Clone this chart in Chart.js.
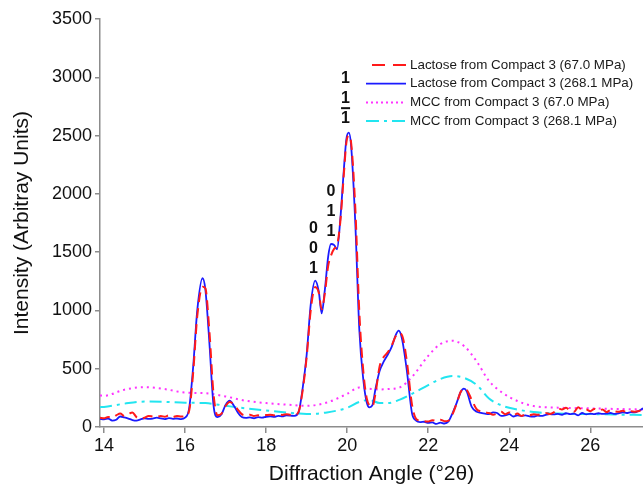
<!DOCTYPE html>
<html>
<head>
<meta charset="utf-8">
<title>Lactose / MCC diffraction patterns</title>
<script src="https://cdn.jsdelivr.net/npm/chart.js@4.4.1/dist/chart.umd.min.js"></script>
<style>
  html, body { margin: 0; padding: 0; background: #fff; }
  canvas { display: block; }
</style>
</head>
<body>
<canvas id="xrdChart" width="643" height="490"></canvas>
<script>
// ---- data ----
// lactose scans share one angle grid (°2θ)
const lactoseAngle = [
  13.9, 14.0, 14.1, 14.2, 14.3, 14.4, 14.5, 14.6, 14.7, 14.8, 14.9, 15.0, 15.1, 15.2, 15.3, 15.4,
  15.5, 15.6, 15.7, 15.8, 15.9, 16.0, 16.1, 16.2, 16.3, 16.43, 16.5, 16.6, 16.7, 16.8, 16.9, 17.0,
  17.1, 17.2, 17.3, 17.4, 17.5, 17.6, 17.7, 17.8, 17.9, 18.0, 18.1, 18.2, 18.3, 18.4, 18.5, 18.6,
  18.7, 18.8, 18.9, 19.0, 19.1, 19.21, 19.3, 19.37, 19.45, 19.53, 19.6, 19.68, 19.75, 19.83, 19.92,
  19.98, 20.04, 20.1, 20.2, 20.3, 20.4, 20.48, 20.55, 20.62, 20.7, 20.8, 20.9, 21.0, 21.1, 21.2,
  21.27, 21.35, 21.47, 21.6, 21.7, 21.8, 21.9, 22.0, 22.1, 22.2, 22.3, 22.4, 22.5, 22.6, 22.7,
  22.8, 22.88, 22.95, 23.07, 23.2, 23.3, 23.4, 23.5, 23.6, 23.7, 23.8, 23.9, 24.0, 24.1, 24.2,
  24.3, 24.4, 24.5, 24.6, 24.7, 24.8, 24.9, 25.0, 25.1, 25.2, 25.3, 25.4, 25.5, 25.6, 25.7, 25.8,
  25.9, 26.0, 26.1, 26.2, 26.3, 26.4, 26.5, 26.6, 26.7, 26.8, 26.9, 27.0, 27.1, 27.2, 27.3
];
const lactose67 = [
  80, 75, 85, 80, 100, 115, 95, 110, 125, 85, 75, 80, 95, 90, 85, 95,
  88, 100, 85, 95, 90, 92, 140, 470, 950, 1204, 1190, 820, 290, 100, 115, 180,
  215, 195, 150, 110, 100, 105, 95, 100, 98, 102, 105, 100, 108, 104, 110, 106,
  105, 130, 310, 600, 1000, 1200, 1150, 1010, 1150, 1380, 1470, 1530, 1560, 1760, 2180,
  2440, 2500, 2430, 1880, 980, 470, 250, 185, 175, 290, 520, 600, 640, 700, 780,
  805, 790, 570, 190, 70, 55, 50, 48, 58, 52, 62, 50, 55, 110, 200,
  300, 330, 320, 235, 150, 135, 125, 120, 105, 115, 130, 110, 125, 100, 115,
  95, 108, 100, 110, 105, 115, 120, 112, 125, 160, 150, 165, 140, 130, 170, 145,
  150, 135, 155, 140, 150, 128, 145, 135, 130, 140, 125, 135, 130, 138, 145
];
const lactose268 = [
  70, 66, 72, 55, 62, 90, 82, 72, 60, 55, 65, 75, 70, 72, 80, 74,
  68, 76, 70, 73, 68, 80, 160, 520, 1000, 1276, 1180, 720, 190, 85, 110, 190,
  226, 185, 125, 85, 78, 82, 75, 85, 80, 88, 92, 88, 96, 92, 100, 98,
  95, 125, 330, 620, 1050, 1255, 1160, 975, 1180, 1460, 1570, 1560, 1525, 1780, 2220,
  2470, 2525, 2400, 1750, 830, 400, 215, 168, 185, 330, 480, 560, 620, 690, 790,
  826, 760, 490, 117, 55, 42, 45, 35, 40, 26, 38, 30, 48, 120, 205,
  300, 330, 305, 175, 130, 122, 115, 110, 125, 120, 95, 100, 110, 90, 100,
  95, 100, 92, 90, 98, 95, 105, 110, 108, 112, 105, 118, 110, 115, 100, 120,
  108, 115, 110, 118, 112, 115, 120, 112, 118, 125, 120, 128, 125, 140, 160
];

// MCC scans are broad humps, sampled more coarsely
const mccAngle = [
  13.9, 14.0, 14.5, 15.0, 15.5, 16.0, 16.5, 17.0, 17.5, 18.0, 18.5, 19.0, 19.5, 20.0, 20.3,
  20.55, 20.8, 21.0, 21.3, 21.6, 22.0, 22.3, 22.6, 22.9, 23.2, 23.5, 23.85, 24.2, 24.6, 25.2,
  26.0, 26.6, 27.3
];
const mcc67 = [
  270, 268, 320, 342, 325, 295, 290, 262, 225, 205, 192, 182, 210, 285, 338,
  328, 322, 325, 340, 430, 610, 712, 740, 690, 560, 395, 289, 223, 180, 166,
  160, 155, 150
];
const mcc268 = [
  170, 172, 200, 218, 216, 208, 205, 182, 160, 142, 125, 112, 125, 165, 215,
  232, 205, 205, 235, 285, 360, 412, 437, 420, 360, 245, 180, 150, 128, 116,
  111, 107, 103
];

const seriesLabels = [
  'Lactose from Compact 3 (67.0 MPa)',
  'Lactose from Compact 3 (268.1 MPa)',
  'MCC from Compact 3 (67.0 MPa)',
  'MCC from Compact 3 (268.1 MPa)'
];

const xTicks = [14, 16, 18, 20, 22, 24, 26];
const yTicks = [0, 500, 1000, 1500, 2000, 2500, 3000, 3500];

// Miller indices written above the lactose reflections
const peakLabels = [
  { angle: 19.17, value: 1255, rows: ['0', '0', '1'] },
  { angle: 19.6, value: 1570, rows: ['0', '1', '1'] },
  { angle: 19.96, value: 2525, rows: ['1', '1', '1'], barLast: true }
];

const FONT = "'Liberation Sans', Arial, Helvetica, sans-serif";
const AXIS_GREY = '#8c8c8c';

function toPoints(xs, ys) {
  return xs.map((x, i) => ({ x: x, y: ys[i] }));
}

// ---- plugins ----
// vertical stacks of hkl digits; the last "1" of the main peak carries a bar
const millerIndices = {
  id: 'millerIndices',
  afterDatasetsDraw(chart) {
    const { ctx, scales: { x, y } } = chart;
    ctx.save();
    ctx.font = 'bold 16px ' + FONT;
    ctx.textAlign = 'center';
    ctx.textBaseline = 'middle';
    ctx.fillStyle = '#111';
    ctx.strokeStyle = '#111';
    peakLabels.forEach(p => {
      const px = x.getPixelForValue(p.angle);
      const bottom = y.getPixelForValue(p.value) - (p.barLast ? 14 : 12);
      const n = p.rows.length;
      p.rows.forEach((r, i) => {
        ctx.fillText(r, px, bottom - (n - 1 - i) * 20);
      });
      if (p.barLast) {
        ctx.lineWidth = 2;
        ctx.beginPath();
        ctx.moveTo(px - 4.5, bottom - 10.5);
        ctx.lineTo(px + 4.5, bottom - 10.5);
        ctx.stroke();
      }
    });
    ctx.restore();
  }
};

// line-sample legend in the upper right of the plot
const lineLegend = {
  id: 'lineLegend',
  afterDraw(chart) {
    const ctx = chart.ctx;
    const x0 = 366, x1 = 406, textX = 410, top = 65, step = 18.7;
    ctx.save();
    ctx.font = '13.4px ' + FONT;
    ctx.textBaseline = 'middle';
    ctx.textAlign = 'left';
    chart.data.datasets.forEach((ds, i) => {
      const yy = top + i * step;
      ctx.strokeStyle = ds.borderColor;
      ctx.lineWidth = ds.borderWidth;
      ctx.setLineDash(ds.legendDash || []);
      ctx.beginPath();
      ctx.moveTo(x0, yy);
      ctx.lineTo(x1, yy);
      ctx.stroke();
      ctx.setLineDash([]);
      ctx.fillStyle = '#1a1a1a';
      ctx.fillText(ds.label, textX, yy);
    });
    ctx.restore();
  }
};

// ---- chart ----
const ctx = document.getElementById('xrdChart').getContext('2d');

new Chart(ctx, {
  type: 'line',
  data: {
    datasets: [
      {
        label: seriesLabels[0],
        data: toPoints(lactoseAngle, lactose67),
        borderColor: '#ff1a1a',
        borderWidth: 2,
        borderDash: [10, 6],
        legendDash: [0, 6, 13, 8, 13, 8]
      },
      {
        label: seriesLabels[1],
        data: toPoints(lactoseAngle, lactose268),
        borderColor: '#1a1aff',
        borderWidth: 1.8
      },
      {
        label: seriesLabels[2],
        data: toPoints(mccAngle, mcc67),
        borderColor: '#ff33ff',
        borderWidth: 2,
        borderDash: [2, 4],
        legendDash: [2, 3]
      },
      {
        label: seriesLabels[3],
        data: toPoints(mccAngle, mcc268),
        borderColor: '#22e5f0',
        borderWidth: 2,
        borderDash: [12, 5, 3, 5],
        legendDash: [13, 5, 3, 5]
      }
    ]
  },
  options: {
    responsive: false,
    animation: false,
    devicePixelRatio: 1,
    layout: { padding: { top: 19, right: 0, bottom: 0, left: 0 } },
    elements: {
      point: { radius: 0 },
      line: { cubicInterpolationMode: 'monotone', fill: false }
    },
    plugins: {
      legend: { display: false },
      tooltip: { enabled: false }
    },
    scales: {
      x: {
        type: 'linear',
        min: 13.9,
        max: 27.3,
        afterBuildTicks: s => { s.ticks = xTicks.map(v => ({ value: v })); },
        afterFit: s => { s.height = 63; },
        border: { color: AXIS_GREY, width: 1.5 },
        grid: { drawOnChartArea: false, tickLength: 6, color: AXIS_GREY, lineWidth: 1.5 },
        ticks: {
          color: '#111',
          font: { family: FONT, size: 18 },
          padding: 2,
          maxRotation: 0,
          callback: v => String(v)
        },
        title: {
          display: true,
          text: 'Diffraction Angle (°2θ)',
          color: '#111',
          font: { family: FONT, size: 21 },
          padding: { top: 0, bottom: 3 }
        }
      },
      y: {
        min: 0,
        max: 3500,
        afterBuildTicks: s => { s.ticks = yTicks.map(v => ({ value: v })); },
        afterFit: s => { s.width = 100; },
        border: { color: AXIS_GREY, width: 1.5 },
        grid: { drawOnChartArea: false, tickLength: 5, color: AXIS_GREY, lineWidth: 1.5 },
        ticks: {
          color: '#111',
          font: { family: FONT, size: 18 },
          padding: 3,
          callback: v => String(v)
        },
        title: {
          display: true,
          text: 'Intensity (Arbitray Units)',
          color: '#111',
          font: { family: FONT, size: 21 },
          padding: { top: 10, bottom: 0 }
        }
      }
    }
  },
  plugins: [millerIndices, lineLegend]
});
</script>
</body>
</html>
